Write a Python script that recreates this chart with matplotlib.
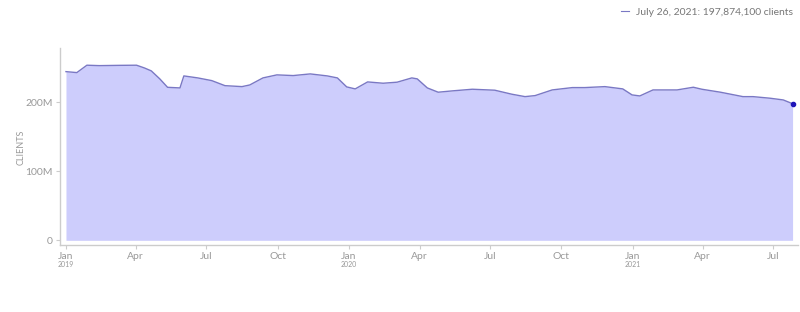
import matplotlib
matplotlib.use('Agg')
import matplotlib.pyplot as plt
import pandas as pd

dates = ['2019-01-01', '2019-01-15', '2019-01-28', '2019-02-13', '2019-03-11', '2019-04-02',
         '2019-04-12', '2019-04-21', '2019-05-02', '2019-05-12', '2019-05-28', '2019-06-02',
         '2019-06-20', '2019-07-08', '2019-07-25', '2019-08-16', '2019-08-26', '2019-09-12',
         '2019-09-30', '2019-10-21', '2019-11-12', '2019-12-04', '2019-12-17', '2019-12-29',
         '2020-01-09', '2020-01-25', '2020-02-14', '2020-03-03', '2020-03-22', '2020-03-29',
         '2020-04-11', '2020-04-25', '2020-05-13', '2020-06-08', '2020-07-07', '2020-07-29',
         '2020-08-15', '2020-08-28', '2020-09-19', '2020-10-15', '2020-10-31', '2020-11-26',
         '2020-12-19', '2020-12-31', '2021-01-10', '2021-01-27', '2021-02-27', '2021-03-20',
         '2021-03-31', '2021-04-24', '2021-05-23', '2021-06-05', '2021-06-27', '2021-07-14',
         '2021-07-26']
clients = [244.3, 242.9, 253.6, 253.0, 253.4, 253.6,
           249.7, 245.4, 233.8, 221.6, 220.7, 238.1,
           235.2, 231.3, 224.0, 222.6, 225.0, 235.2,
           239.6, 238.6, 241.0, 238.1, 235.2, 222.2,
           219.3, 229.4, 227.5, 229.0, 235.2, 233.8,
           220.7, 214.5, 216.4, 218.8, 217.4, 211.6,
           208.1, 209.6, 217.8, 221.2, 221.2, 222.6,
           219.3, 210.6, 209.1, 217.8, 217.8, 221.7,
           218.8, 214.5, 208.1, 208.1, 205.8, 203.3,
           197.8741]

month_ticks = ['2019-01-01', '2019-04-01', '2019-07-01', '2019-10-01',
               '2020-01-01', '2020-04-01', '2020-07-01', '2020-10-01',
               '2021-01-01', '2021-04-01', '2021-07-01']
month_labels = ['Jan', 'Apr', 'Jul', 'Oct', 'Jan', 'Apr', 'Jul', 'Oct', 'Jan', 'Apr', 'Jul']
years = ['2019', '2020', '2021']

plt.rcParams['font.family'] = ['Lato', 'DejaVu Sans']

x = pd.to_datetime(dates)
y = [v * 1e6 for v in clients]

fig = plt.figure(figsize=(8, 3.12), dpi=100)
ax = fig.add_axes([0.075, 0.2138, 0.9225, 0.6312])

ax.fill_between(x, y, 0, color='#cdcdfc', linewidth=0)
ax.plot(x, y, color='#7a78c4', linewidth=1)
ax.scatter([x[-1]], [y[-1]], color='#1f14b8', s=9, zorder=5)

start = pd.Timestamp('2019-01-01')
ax.set_xlim(start - pd.Timedelta(days=7.7), start + pd.Timedelta(days=944))
ax.set_ylim(-7.2e6, 278e6)

ax.set_yticks([0, 100e6, 200e6])
ax.set_yticklabels(['0', '100M', '200M'])
ax.set_xticks(pd.to_datetime(month_ticks))
ax.set_xticklabels(month_labels)

ax.tick_params(axis='both', colors='#cccccc', labelcolor='#999999', labelsize=7.5,
               length=3, width=0.8, pad=2)
for s in ['top', 'right']:
    ax.spines[s].set_visible(False)
for s in ['left', 'bottom']:
    ax.spines[s].set_color('#cccccc')
    ax.spines[s].set_linewidth(1)

ax.set_ylabel('CLIENTS', color='#999999', fontsize=6.5, labelpad=0)

for yr in years:
    ax.text(pd.Timestamp(yr + '-01-01'), -0.08, yr, transform=ax.get_xaxis_transform(),
            ha='center', va='top', fontsize=5, color='#999999')

ax.plot([], [], color='#7a78c4', linewidth=0.8,
        label='July 26, 2021: 197,874,100 clients')
leg = ax.legend(loc='upper right', bbox_to_anchor=(1.0, 1.0), bbox_transform=fig.transFigure,
                frameon=False, fontsize=7.5, handlelength=0.8, handletextpad=0.6,
                borderaxespad=0.3)
for t in leg.get_texts():
    t.set_color('#777777')

fig.savefig('out.png', dpi=100)
